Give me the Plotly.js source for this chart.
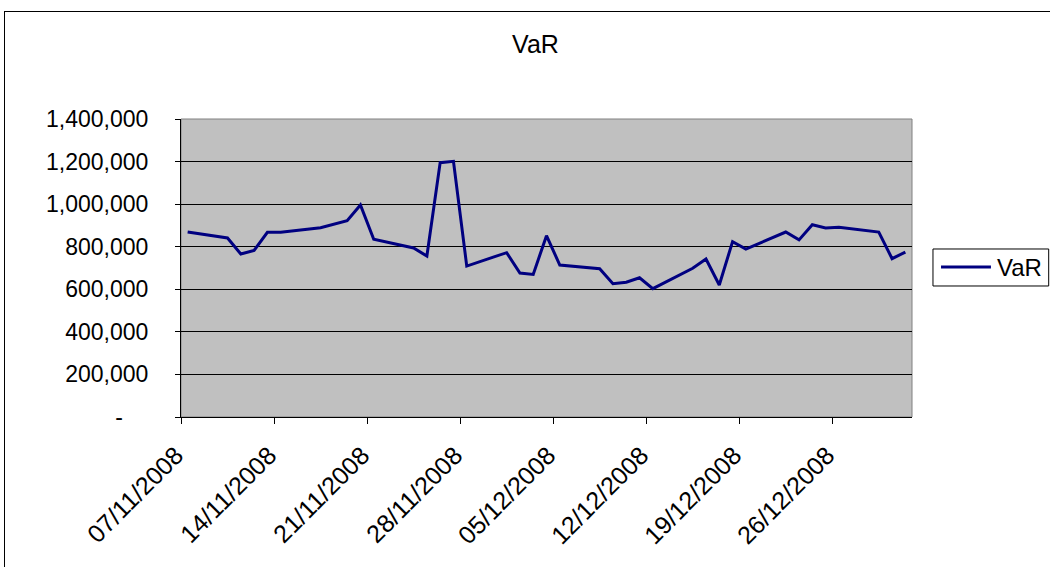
<!DOCTYPE html>
<html>
<head>
<meta charset="utf-8">
<script src="https://cdn.plot.ly/plotly-3.0.1.min.js"></script>
<style>
html,body{margin:0;padding:0;background:#fff;}
#wrap{position:relative;width:1050px;height:567px;overflow:hidden;}
#chart{width:1050px;height:567px;}
#frame{position:absolute;left:4px;top:11px;width:1060px;height:570px;border:1px solid #000;pointer-events:none;}
</style>
</head>
<body>
<div id="wrap"><div id="chart"></div><div id="frame"></div></div>
<script>
const dates = ['2008-11-07','2008-11-10','2008-11-11','2008-11-12','2008-11-13','2008-11-14',
  '2008-11-17','2008-11-19','2008-11-20','2008-11-21','2008-11-24','2008-11-25','2008-11-26','2008-11-27','2008-11-28',
  '2008-12-01','2008-12-02','2008-12-03','2008-12-04','2008-12-05','2008-12-08','2008-12-09','2008-12-10','2008-12-11','2008-12-12',
  '2008-12-15','2008-12-16','2008-12-17','2008-12-18','2008-12-19','2008-12-22','2008-12-23','2008-12-24','2008-12-25','2008-12-26',
  '2008-12-29','2008-12-30','2008-12-31'];
const varValues = [869000,841000,766000,783000,868000,868000,
  889000,922000,996000,835000,794000,756000,1195000,1201000,709000,
  772000,676000,670000,852000,714000,697000,626000,633000,654000,603000,
  699000,742000,620000,824000,789000,869000,832000,903000,888000,891000,
  869000,744000,775000];
const yTickVals = [0,200000,400000,600000,800000,1000000,1200000,1400000];
const yTickText = ['-\u00a0\u00a0\u00a0\u00a0','200,000','400,000','600,000','800,000','1,000,000','1,200,000','1,400,000'];
const xTickVals = ['2008-11-07','2008-11-14','2008-11-21','2008-11-28','2008-12-05','2008-12-12','2008-12-19','2008-12-26'];
const xTickText = ['07/11/2008','14/11/2008','21/11/2008','28/11/2008','05/12/2008','12/12/2008','19/12/2008','26/12/2008'];
const seriesName = 'VaR';
const lineColor = '#000080';

const fam = 'Liberation Sans, Arial, sans-serif';
const tickFont = {family:fam, size:23, color:'#000'};
const xTickFont = {family:fam, size:25, color:'#000'};
const trace = {
  x: dates.map(d => d + ' 12:00'),
  y: varValues,
  type:'scatter', mode:'lines', name: seriesName, showlegend:false,
  line:{color:lineColor, width:3}
};
// legend box drawn in paper coordinates (plot area: x 181..912, y 119..417 px)
const lgX0 = 1.0287, lgX1 = 1.187, lgY0 = 0.4396, lgY1 = 0.5638, lgYm = 0.503;
const layout = {
  width:1050, height:567,
  margin:{l:181, r:138, t:119, b:150},
  paper_bgcolor:'#fff', plot_bgcolor:'#C0C0C0',
  font: tickFont,
  title:{text:'VaR', font:{family:fam, size:25, color:'#000'}, x:0.51, xanchor:'center', y:0.922, yanchor:'middle'},
  showlegend:false,
  xaxis:{type:'date', range:['2008-11-07','2009-01-01'], tickvals:xTickVals, ticktext:xTickText.map(t => t + '\u00a0'), tickangle:-45,
    showgrid:false, showline:true, linecolor:'#000', linewidth:1, ticks:'outside', ticklen:6, tickcolor:'#000', zeroline:false, tickfont:xTickFont, ticklabelstandoff:2},
  yaxis:{range:[0,1400000], tickvals:yTickVals, ticktext:yTickText, showgrid:true, gridcolor:'#000', gridwidth:1,
    showline:true, linecolor:'#000', linewidth:1, ticks:'outside', ticklen:5, tickcolor:'#000', zeroline:false, tickfont:tickFont, ticklabelstandoff:22},
  shapes:[
    {type:'rect', xref:'paper', yref:'paper', x0:0, x1:1, y0:0, y1:1, line:{color:'#808080', width:1}, layer:'below'},
    {type:'rect', xref:'paper', yref:'paper', x0:lgX0, x1:lgX1, y0:lgY0, y1:lgY1, line:{color:'#000', width:1}, fillcolor:'#fff'},
    {type:'line', xref:'paper', yref:'paper', x0:1.0397, x1:1.108, y0:lgYm, y1:lgYm, line:{color:lineColor, width:3}}
  ],
  annotations:[
    {xref:'paper', yref:'paper', x:1.1135, y:lgYm, xanchor:'left', yanchor:'middle', text:seriesName, showarrow:false,
     font:{family:fam, size:24, color:'#000'}}
  ]
};
Plotly.newPlot('chart', [trace], layout, {displayModeBar:false, staticPlot:true});
</script>
</body>
</html>
